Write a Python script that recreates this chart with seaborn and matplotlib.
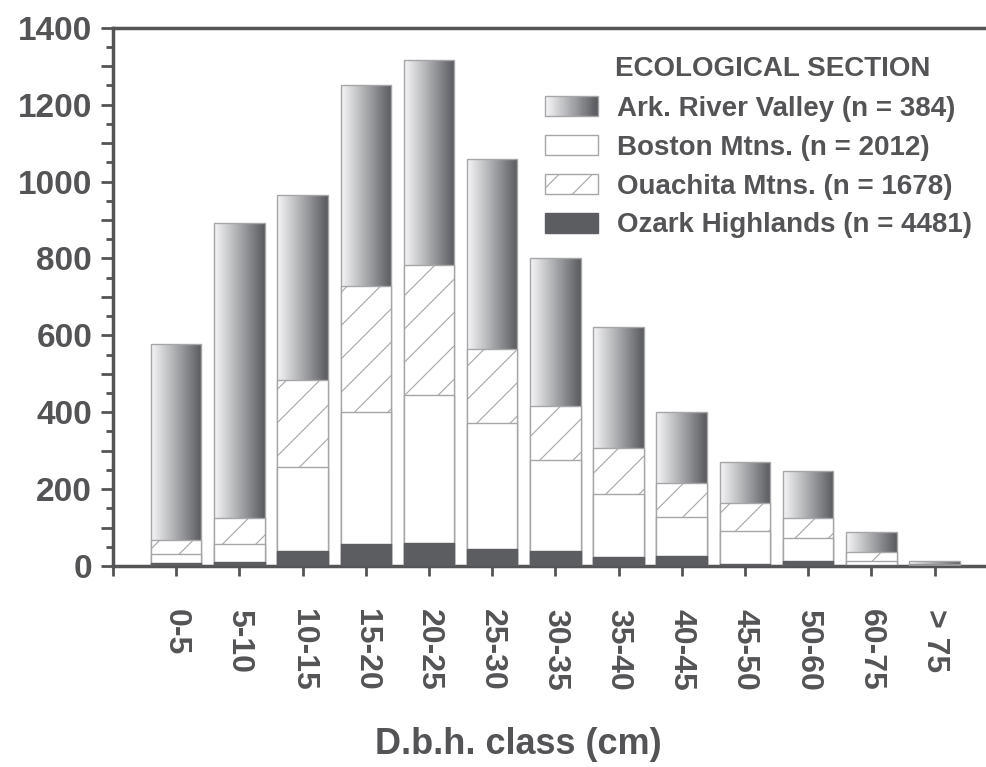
import numpy as np
import pandas as pd
import matplotlib
matplotlib.use('Agg')
import matplotlib.pyplot as plt
import seaborn as sns
from matplotlib.patches import Patch, Rectangle
from matplotlib.legend_handler import HandlerBase
from matplotlib.colors import LinearSegmentedColormap
from matplotlib.ticker import MultipleLocator, FuncFormatter

# d.b.h. classes and stems per class
classes = ['0-5', '5-10', '10-15', '15-20', '20-25', '25-30', '30-35',
           '35-40', '40-45', '45-50', '50-60', '60-75', '> 75']
ozark = [8, 10, 40, 58, 60, 45, 38, 24, 25, 6, 14, 2, 1]
boston = [22, 48, 218, 342, 385, 327, 237, 164, 103, 86, 58, 12, 2]
ouachita = [38, 67, 226, 328, 338, 193, 140, 120, 87, 72, 52, 23, 2]
ark = [510, 768, 482, 522, 534, 493, 387, 314, 185, 106, 122, 51, 7]

legend_labels = ['Ark. River Valley (n = 384)', 'Boston Mtns. (n = 2012)',
                 'Ouachita Mtns. (n = 1678)', 'Ozark Highlands (n = 4481)']

df = pd.DataFrame({'dbh': classes, 'ozark': ozark, 'boston': boston,
                   'ouachita': ouachita, 'ark': ark})
df['c_boston'] = df['ozark'] + df['boston']
df['c_ouachita'] = df['c_boston'] + df['ouachita']
df['c_ark'] = df['c_ouachita'] + df['ark']

sns.set_style('ticks')
plt.rcParams['font.family'] = ['Liberation Sans', 'DejaVu Sans']
plt.rcParams['font.weight'] = 'bold'
plt.rcParams['hatch.color'] = '#b4b4b6'
plt.rcParams['hatch.linewidth'] = 0.8

ink = '#545457'
edge = '#a6a6a8'
dark = '#5c5d60'
grad = LinearSegmentedColormap.from_list('grad', ['#f6f6f8', '#a8a9ac', '#595a5d'])

fig = plt.figure(figsize=(9.87, 7.67), dpi=100)
ax = fig.add_axes([113 / 987, 201 / 767, 1 - 113 / 987, (566 - 27.7) / 767])

common = dict(data=df, x='dbh', order=classes, saturation=1, width=0.8,
              errorbar=None, linewidth=1, ax=ax)

# stacked bars drawn as overlapping cumulative totals
sns.barplot(y='c_ark', color='#909090', edgecolor=edge, zorder=1, **common)
grad_bars = list(ax.patches)
sns.barplot(y='c_ouachita', color='white', edgecolor=edge, hatch='/', zorder=2, **common)
sns.barplot(y='c_boston', color='white', edgecolor=edge, zorder=3, **common)
sns.barplot(y='ozark', color=dark, edgecolor=dark, zorder=4, **common)

# horizontal grey gradient for the top segment
ramp = np.linspace(0, 1, 256).reshape(1, -1)
for p in grad_bars:
    x0, y0, w, h = p.get_x(), p.get_y(), p.get_width(), p.get_height()
    im = ax.imshow(ramp, cmap=grad, aspect='auto', interpolation='bilinear',
                   extent=[x0, x0 + w, y0, y0 + h], zorder=1.1)
    im.set_clip_path(p)
    p.set_facecolor('none')
    p.set_zorder(1.2)

ax.set_xlim(-1, 12.83)
ax.set_ylim(0, 1400)

ax.set_xticks(range(-1, len(classes)))
ax.set_xticklabels([''] + classes, rotation=270, va='top', ha='center')
ax.tick_params(axis='x', length=7, width=2, pad=24, labelsize=23, colors=ink)

ax.yaxis.set_major_locator(MultipleLocator(100))
ax.yaxis.set_minor_locator(MultipleLocator(50))
ax.yaxis.set_major_formatter(FuncFormatter(lambda v, p: f'{int(round(v))}' if round(v) % 200 == 0 else ''))
ax.tick_params(axis='y', which='major', length=9, width=2, labelsize=24, pad=6, colors=ink)
ax.tick_params(axis='y', which='minor', length=5, width=2, colors=ink)

for side in ['left', 'bottom', 'top']:
    ax.spines[side].set_color(ink)
    ax.spines[side].set_linewidth(2.5)
ax.spines['right'].set_visible(False)

ax.set_ylabel('')
ax.set_xlabel('D.b.h. class (cm)', fontsize=26, color=ink, fontweight='bold')
ax.xaxis.set_label_coords((518 - 113) / (987 - 113), -0.30)


class GradHandler(HandlerBase):
    def create_artists(self, legend, orig_handle, xdescent, ydescent,
                       width, height, fontsize, trans):
        n = 48
        arts = []
        for i in range(n):
            arts.append(Rectangle((-xdescent + width * i / n, -ydescent), width / n * 1.1, height,
                                  facecolor=grad(i / (n - 1)), edgecolor='none', transform=trans))
        arts.append(Rectangle((-xdescent, -ydescent), width, height, facecolor='none',
                              edgecolor=edge, lw=1, transform=trans))
        return arts


h_ark = Patch(label=legend_labels[0])
h_boston = Patch(facecolor='white', edgecolor=edge, label=legend_labels[1])
h_ouachita = Patch(facecolor='white', edgecolor=edge, hatch='/', label=legend_labels[2])
h_ozark = Patch(facecolor=dark, edgecolor=dark, label=legend_labels[3])

leg = ax.legend(handles=[h_ark, h_boston, h_ouachita, h_ozark],
                handler_map={h_ark: GradHandler()},
                loc='upper left', bbox_to_anchor=(545 / 987, 1 - 96 / 767),
                bbox_transform=fig.transFigure, frameon=False, fontsize=20,
                handlelength=1.9, handleheight=0.72, handletextpad=0.68,
                labelspacing=0.46, borderpad=0, borderaxespad=0, labelcolor=ink)
leg.set_zorder(10)

fig.text(615 / 987, 1 - 69 / 767, 'ECOLOGICAL SECTION', fontsize=20,
         fontweight='bold', color=ink, ha='left', va='center')

fig.savefig('out.png', dpi=100)
